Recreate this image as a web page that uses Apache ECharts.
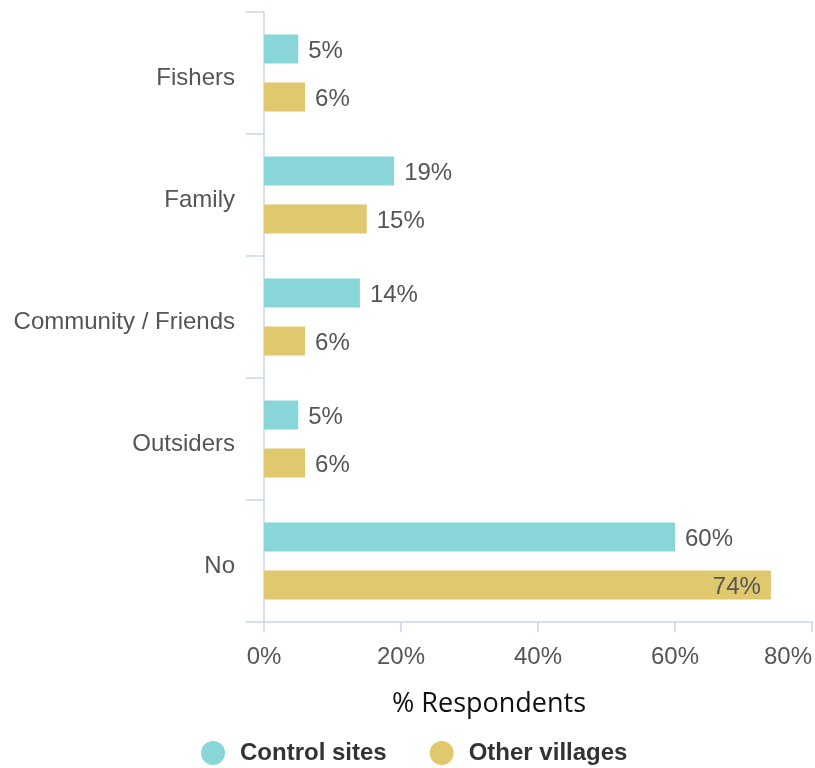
<!DOCTYPE html>
<html>
<head>
<meta charset="utf-8">
<script src="https://cdn.jsdelivr.net/npm/echarts@6/dist/echarts.min.js"></script>
<style>
  html, body { margin: 0; padding: 0; background: #fff; }
  #chart { width: 815px; height: 768px; }
</style>
</head>
<body>
<div id="chart"></div>
<script>
// Who respondents share information with, by site group
const categories = ['Fishers', 'Family', 'Community / Friends', 'Outsiders', 'No'];
const controlSites = [5, 19, 14, 5, 60];
const otherVillages = [6, 15, 6, 6, 74];
const xTicks = [0, 20, 40, 60, 80];
const seriesNames = ['Control sites', 'Other villages'];
const axisTitle = '% Respondents';

const axisColor = '#ccd6eb';
const textColor = '#555';
const labelFont = '"Liberation Sans", Arial, sans-serif';

const chart = echarts.init(document.getElementById('chart'), null, { renderer: 'canvas' });

function labelFor(pos) {
  return {
    show: true,
    position: pos,
    distance: 10,
    offset: [0, 2],
    formatter: p => p.value + '%',
    fontFamily: labelFont,
    fontSize: 24,
    color: textColor
  };
}

chart.setOption({
  animation: false,
  grid: {
    left: 264, right: 3, top: 12, bottom: 146,
    containLabel: false,
    outerBoundsMode: 'none'
  },
  xAxis: {
    type: 'value',
    min: xTicks[0],
    max: xTicks[xTicks.length - 1],
    interval: xTicks[1] - xTicks[0],
    axisLine: { show: true, lineStyle: { color: axisColor, width: 1.5 } },
    axisTick: { show: true, length: 10, lineStyle: { color: axisColor, width: 1.5 } },
    splitLine: { show: false },
    axisLabel: {
      margin: 23,
      formatter: v => v + '%',
      alignMaxLabel: 'right',
      fontFamily: labelFont,
      fontSize: 24,
      color: textColor
    }
  },
  yAxis: {
    type: 'category',
    data: categories,
    inverse: true,
    axisLine: { show: true, lineStyle: { color: axisColor, width: 1.5 } },
    axisTick: { show: true, length: 18, lineStyle: { color: axisColor, width: 1.5 } },
    axisLabel: {
      margin: 29,
      verticalAlign: 'top',
      lineHeight: 10,
      fontFamily: labelFont,
      fontSize: 24,
      color: textColor
    }
  },
  legend: {
    top: 736,
    left: 196,
    icon: 'circle',
    itemWidth: 24,
    itemHeight: 24,
    itemGap: 43,
    textStyle: {
      fontFamily: labelFont,
      fontSize: 24,
      fontWeight: 'bold',
      color: '#333',
      padding: [0, 0, 0, 10]
    },
    data: seriesNames
  },
  graphic: [{
    type: 'text',
    left: 392,
    top: 691,
    style: {
      text: axisTitle,
      font: '27px "Open Sans", "Noto Sans", sans-serif',
      fill: '#111'
    }
  }],
  series: [
    {
      name: seriesNames[0],
      type: 'bar',
      data: controlSites,
      barWidth: 29,
      barGap: '65%',
      barCategoryGap: '37%',
      itemStyle: { color: '#88d6d8' },
      label: labelFor('right')
    },
    {
      name: seriesNames[1],
      type: 'bar',
      data: otherVillages.map((v, i) =>
        i === otherVillages.length - 1
          ? { value: v, label: { position: 'insideRight', distance: 10 } }
          : v),
      barWidth: 29,
      itemStyle: { color: '#e0c86e' },
      label: labelFor('right')
    }
  ]
});
</script>
</body>
</html>
